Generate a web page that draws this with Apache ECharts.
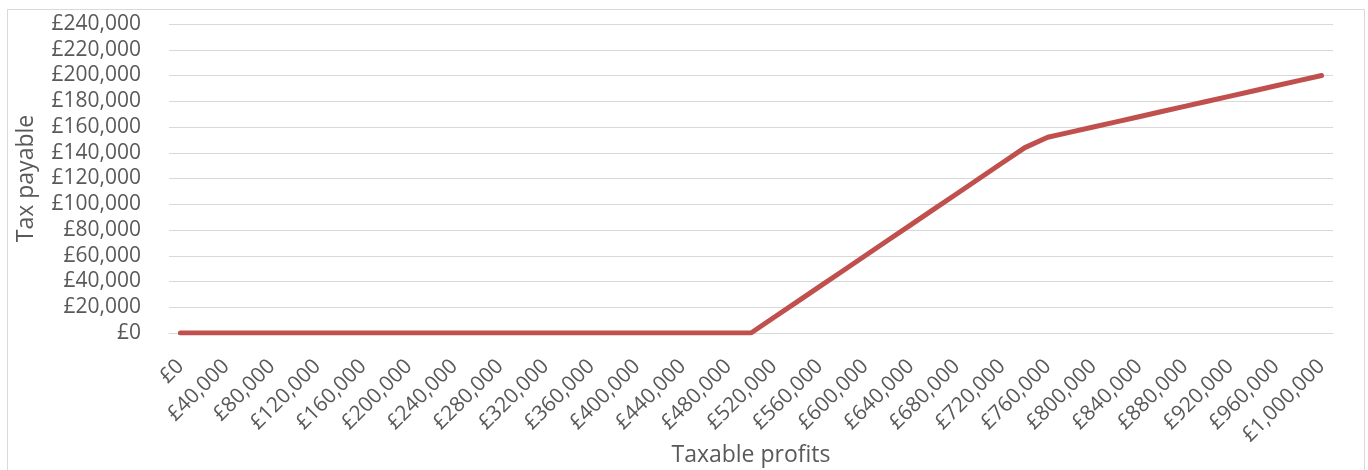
<!DOCTYPE html>
<html>
<head>
<meta charset="utf-8">
<script src="https://cdn.jsdelivr.net/npm/echarts@6/dist/echarts.min.js"></script>
<style>
  html, body { margin: 0; padding: 0; background: #fff; }
  #chart { width: 1368px; height: 470px; }
</style>
</head>
<body>
<div id="chart"></div>
<script>
// Taxable profits (categories, £) and the tax payable at each level (£)
const profits = [
  0, 20000, 40000, 60000, 80000, 100000, 120000, 140000, 160000, 180000,
  200000, 220000, 240000, 260000, 280000, 300000, 320000, 340000, 360000, 380000,
  400000, 420000, 440000, 460000, 480000, 500000, 520000, 540000, 560000, 580000,
  600000, 620000, 640000, 660000, 680000, 700000, 720000, 740000, 760000, 780000,
  800000, 820000, 840000, 860000, 880000, 900000, 920000, 940000, 960000, 980000,
  1000000
];
const taxPayable = [
  0, 0, 0, 0, 0, 0, 0, 0, 0, 0,
  0, 0, 0, 0, 0, 0, 0, 0, 0, 0,
  0, 0, 0, 0, 0, 0, 12000, 24000, 36000, 48000,
  60000, 72000, 84000, 96000, 108000, 120000, 132000, 144000, 152000, 156000,
  160000, 164000, 168000, 172000, 176000, 180000, 184000, 188000, 192000, 196000,
  200000
];
const yTicks = { min: 0, max: 240000, step: 20000 };

const FONT = '"Open Sans", sans-serif';
const TEXT = '#595959';
const GRID = '#d9d9d9';

function pounds(v) {
  const s = String(Math.round(Number(v)));
  return '£' + s.replace(/\B(?=(\d{3})+(?!\d))/g, ',');
}

const chart = echarts.init(document.getElementById('chart'), null, { renderer: 'canvas' });
chart.setOption({
  animation: false,
  backgroundColor: '#ffffff',
  graphic: [{
    type: 'rect',
    shape: { x: 7.5, y: 9.5, width: 1357, height: 480 },
    style: { fill: 'none', stroke: GRID, lineWidth: 1 },
    silent: true
  }],
  grid: {
    left: 169, right: 35, top: 24, bottom: 137,
    containLabel: false,
    outerBoundsMode: 'none'
  },
  xAxis: {
    type: 'category',
    data: profits.map(pounds),
    boundaryGap: true,
    name: 'Taxable profits',
    nameLocation: 'middle',
    nameGap: 111,
    nameMoveOverlap: false,
    nameTextStyle: { color: TEXT, fontFamily: FONT, fontSize: 23 },
    axisLine: { lineStyle: { color: GRID, width: 1 } },
    axisTick: { show: false },
    axisLabel: {
      interval: 1,
      rotate: 45,
      margin: 30,
      color: TEXT,
      fontFamily: FONT,
      fontSize: 21
    },
    splitLine: { show: false }
  },
  yAxis: {
    type: 'value',
    min: yTicks.min,
    max: yTicks.max,
    interval: yTicks.step,
    name: 'Tax payable',
    nameLocation: 'middle',
    nameGap: 131,
    nameRotate: 90,
    nameMoveOverlap: false,
    nameTextStyle: { color: TEXT, fontFamily: FONT, fontSize: 23 },
    axisLine: { show: false },
    axisTick: { show: false },
    axisLabel: {
      margin: 28,
      color: TEXT,
      fontFamily: FONT,
      fontSize: 21,
      formatter: pounds
    },
    splitLine: { lineStyle: { color: GRID, width: 1 } }
  },
  series: [{
    type: 'line',
    data: taxPayable,
    showSymbol: false,
    symbol: 'none',
    lineStyle: { color: '#C0504D', width: 5, cap: 'round', join: 'round' },
    itemStyle: { color: '#C0504D' }
  }]
});
</script>
</body>
</html>
